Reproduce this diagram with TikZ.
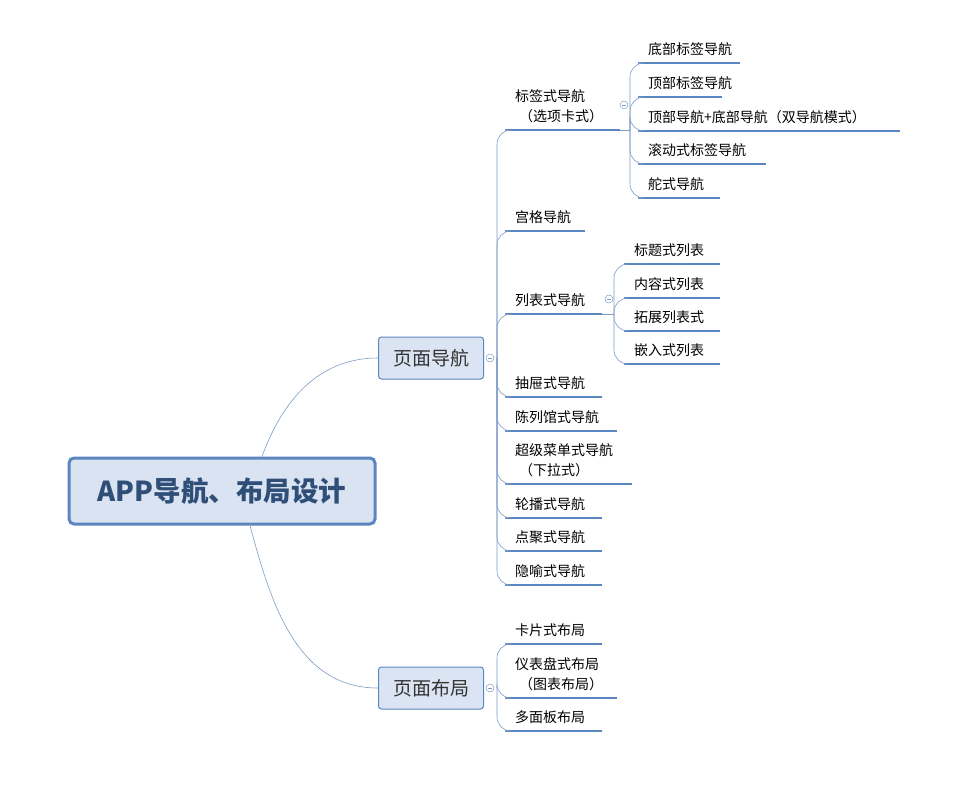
\documentclass[tikz,border=0pt]{standalone}
\usepackage{fontspec}
\newfontfamily\cjk{Noto Sans CJK SC}
\definecolor{lineblue}{HTML}{5B86BF}
\definecolor{linkblue}{HTML}{7D9CC6}
\definecolor{boxfill}{HTML}{DAE4F2}
\definecolor{rootfill}{HTML}{D9E3F1}
\definecolor{roottext}{HTML}{2F4F78}
\tikzset{
  uline/.style={draw=lineblue,line width=1.6pt},
  link/.style={draw=linkblue,line width=0.6pt,rounded corners=14pt},
  leaf/.style={font=\cjk\fontsize{14}{20}\selectfont,anchor=south west,inner xsep=0pt,
    inner ysep=7pt,align=left,
    append after command={(\tikzlastnode.south west) edge[uline] (\tikzlastnode.south east)}},
  mainbox/.style={draw=lineblue,fill=boxfill,rounded corners=3pt,line width=1pt,
    minimum width=105pt,minimum height=42pt,font=\cjk\fontsize{19}{22}\selectfont,text=black!80},
  rootbox/.style={draw=lineblue,fill=rootfill,rounded corners=5pt,line width=3pt,
    minimum width=306pt,minimum height=66pt,font=\cjk\bfseries\fontsize{27.5}{30}\selectfont,text=roottext},
  fold/.style={circle,draw=linkblue,fill=white,inner sep=0pt,minimum size=8pt,line width=0.5pt,
    path picture={\draw[linkblue,line width=0.5pt] ([xshift=-2pt]path picture bounding box.center) -- ([xshift=2pt]path picture bounding box.center);}},
}
\begin{document}
\begin{tikzpicture}[x=1pt,y=-1pt]
\useasboundingbox (0,0) rectangle (977,789);

\node[rootbox] (root) at (222,491) {APP导航、布局设计};
\node[mainbox] (nav) at (431,358) {页面导航};
\node[mainbox] (lay) at (431,688) {页面布局};

\draw[link] ([xshift=40pt]root.north) to[out=70,in=180] (nav.west);
\draw[link] ([xshift=28pt]root.south) to[out=-75,in=180] (lay.west);

% page navigation
\coordinate (navhub) at (497,358);
\node[fold] (navfold) at (490,358) {};
\foreach \name/\y/\w/\txt in {tab/130/115/{\hspace*{10pt}标签式导航\\\hspace*{14pt}（选项卡式）}, grid/231/80/\hspace*{10pt}宫格导航,
    list/314/97/\hspace*{10pt}列表式导航, drawer/397/97/\hspace*{10pt}抽屉式导航, gallery/431/112/\hspace*{10pt}陈列馆式导航,
    menu/484/127/{\hspace*{10pt}超级菜单式导航\\\hspace*{14pt}（下拉式）}, slide/518/97/\hspace*{10pt}轮播式导航,
    spot/551/97/\hspace*{10pt}点聚式导航, meta/585/97/\hspace*{10pt}隐喻式导航}{
  \node[leaf,text width=\w pt] (\name) at (505,\y) {\txt};
  \draw[link] (navhub) |- (\name.south west);
}

% tab navigation
\coordinate (tabhub) at (630,130);
\draw[link] (tab.south east) -- (tabhub);
\node[fold] (tabfold) at (624,105) {};
\foreach \name/\y/\w/\txt in {tabbot/63/102/底部标签导航, tabtop/97/84/顶部标签导航,
    tabboth/131/262/顶部导航+底部导航（双导航模式）, tabscroll/164/128/滚动式标签导航,
    tabrud/198/82/舵式导航}{
  \node[leaf,text width=\w pt] (\name) at (638,\y) {\hspace*{10pt}\txt};
  \draw[link] (tabhub) |- (\name.south west);
}

% list navigation
\coordinate (listhub) at (614,314);
\draw[link] (list.south east) -- (listhub);
\node[fold] (listfold) at (609,299) {};
\foreach \name/\y/\txt in {ltitle/264/标题式列表, lcont/298/内容式列表,
    lext/331/拓展列表式, lemb/364/嵌入式列表}{
  \node[leaf,text width=96pt] (\name) at (624,\y) {\hspace*{10pt}\txt};
  \draw[link] (listhub) |- (\name.south west);
}

% page layout
\coordinate (layhub) at (497,688);
\node[fold] (layfold) at (490,688) {};
\foreach \name/\y/\w/\txt in {card/644/97/\hspace*{10pt}卡片式布局, dash/698/112/{\hspace*{10pt}仪表盘式布局\\\hspace*{14pt}（图表布局）},
    panel/731/97/\hspace*{10pt}多面板布局}{
  \node[leaf,text width=\w pt] (\name) at (505,\y) {\txt};
  \draw[link] (layhub) |- (\name.south west);
}
\end{tikzpicture}
\end{document}
